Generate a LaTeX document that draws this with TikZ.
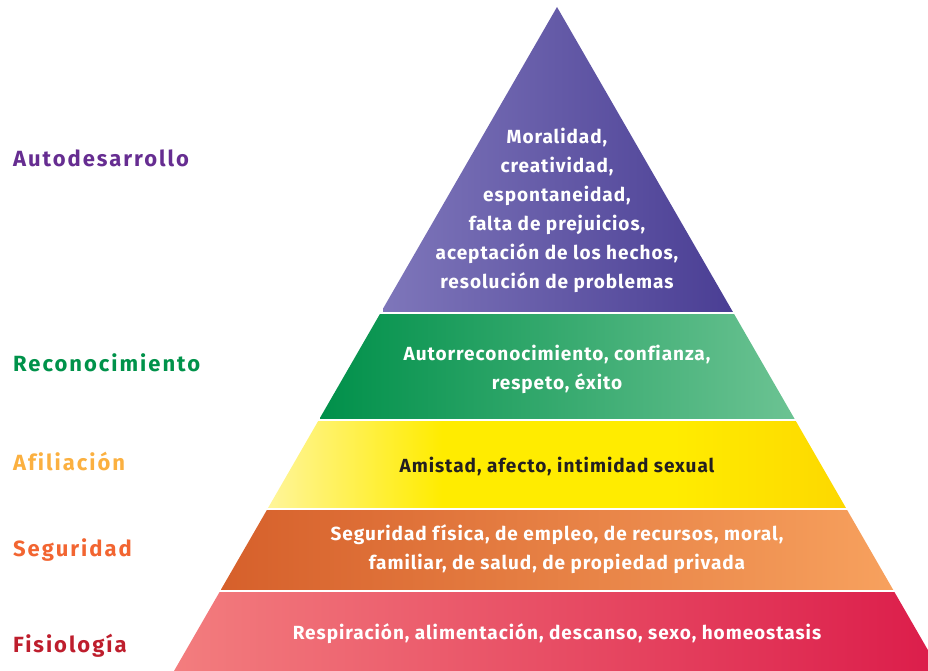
\documentclass[tikz,border=0pt]{standalone}
\usepackage{fontspec}
\setmainfont{Fira Sans}
\newfontfamily\levelfont[LetterSpace=5,Ligatures=NoCommon]{Fira Sans}
\newfontfamily\labelfont[LetterSpace=9,Ligatures=NoCommon]{Fira Sans}
\definecolor{autoL}{HTML}{7E76BA}
\definecolor{autoR}{HTML}{4A3E94}
\definecolor{recoL}{HTML}{00904A}
\definecolor{recoM}{HTML}{00A651}
\definecolor{recoR}{HTML}{6CC393}
\definecolor{afilL}{HTML}{FFF59A}
\definecolor{afilM}{HTML}{FFEC00}
\definecolor{afilR}{HTML}{FDD800}
\definecolor{seguL}{HTML}{D6602B}
\definecolor{seguM}{HTML}{F07827}
\definecolor{seguR}{HTML}{F7A15E}
\definecolor{fisiL}{HTML}{F37D7E}
\definecolor{fisiM}{HTML}{EC4A62}
\definecolor{fisiR}{HTML}{DC1E4B}
\definecolor{autoT}{HTML}{662D91}
\definecolor{recoT}{HTML}{00924A}
\definecolor{afilT}{HTML}{FBB040}
\definecolor{seguT}{HTML}{F26531}
\definecolor{fisiT}{HTML}{BE1E2D}
\definecolor{darktext}{HTML}{231F20}
\pgfdeclarehorizontalshading{afilshade}{100bp}{color(0bp)=(afilL); color(25bp)=(afilL);
  color(40bp)=(afilM); color(60bp)=(afilM); color(75bp)=(afilR); color(100bp)=(afilR)}
\begin{document}
\begin{tikzpicture}[x=1pt,y=-1pt,
    leveltext/.style={font=\levelfont\bfseries\fontsize{19}{29}\selectfont, align=center, text=white},
    sidelabel/.style={font=\labelfont\bfseries\fontsize{22}{26}\selectfont, anchor=west, inner sep=0pt}]
  \useasboundingbox (0,0) rectangle (928,671);
  \clip (0,0) rectangle (928,671);
  % pyramid bands
  \begin{scope}
    \clip (557,7) -- (174,671) -- (940,671) -- cycle;
    \shade[left color=autoL, right color=autoR] (383,0) rectangle (733,311);
    \shade[left color=recoL, middle color=recoM, right color=recoR] (320,314) rectangle (796,418);
    \shade[shading=afilshade] (268,421) rectangle (847,507);
    \shade[left color=seguL, middle color=seguM, right color=seguR] (221,510) rectangle (894,589);
    \shade[left color=fisiL, middle color=fisiM, right color=fisiR] (174,592) rectangle (928,671);
  \end{scope}
  % texts inside the bands
  \node[leveltext] (auto) at (557,210) {Moralidad,\\creatividad,\\espontaneidad,\\falta de prejuicios,\\aceptación de los hechos,\\resolución de problemas};
  \node[leveltext] (reco) at (557,369) {Autorreconocimiento, confianza,\\respeto, éxito};
  \node[leveltext, text=darktext] (afil) at (557,466) {Amistad, afecto, intimidad sexual};
  \node[leveltext] (segu) at (557,549) {Seguridad física, de empleo, de recursos, moral,\\familiar, de salud, de propiedad privada};
  \node[leveltext] (fisi) at (557,634) {Respiración, alimentación, descanso, sexo, homeostasis};
  % side labels
  \node[sidelabel, text=autoT] (autolabel) at (13,158) {Autodesarrollo};
  \node[sidelabel, text=recoT] (recolabel) at (13,363) {Reconocimiento};
  \node[sidelabel, text=afilT] (afillabel) at (13,461) {Afiliación};
  \node[sidelabel, text=seguT] (segulabel) at (13,550) {Seguridad};
  \node[sidelabel, text=fisiT] (fisilabel) at (13,646) {Fisiología};
\end{tikzpicture}
\end{document}
